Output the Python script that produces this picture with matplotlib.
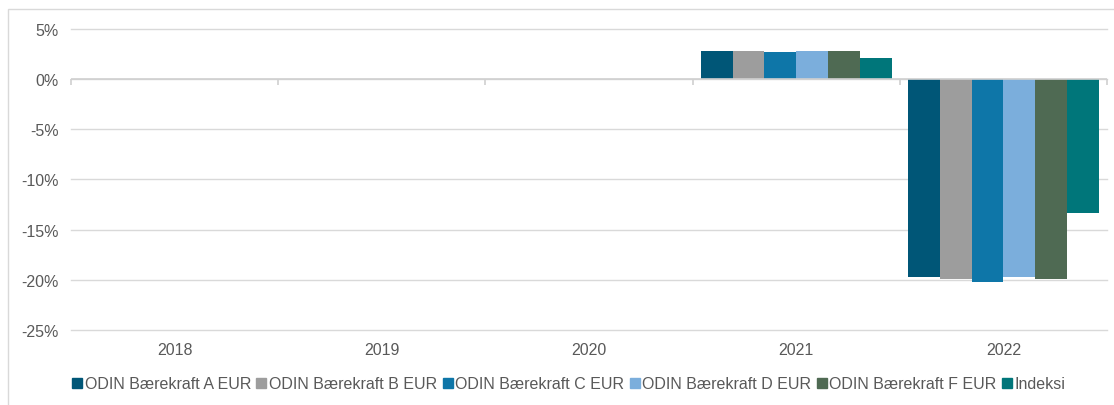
import matplotlib
matplotlib.use("Agg")
import matplotlib.pyplot as plt
import matplotlib.patches as mpatches
from matplotlib.lines import Line2D
import numpy as np

# ── data ─────────────────────────────────────────────────────────────────────
years = ["2018", "2019", "2020", "2021", "2022"]
series = ["ODIN Bærekraft A EUR", "ODIN Bærekraft B EUR", "ODIN Bærekraft C EUR",
          "ODIN Bærekraft D EUR", "ODIN Bærekraft F EUR", "Indeksi"]
odin_a = [np.nan, np.nan, np.nan, 2.8, -19.7]
odin_b = [np.nan, np.nan, np.nan, 2.8, -19.9]
odin_c = [np.nan, np.nan, np.nan, 2.7, -20.2]
odin_d = [np.nan, np.nan, np.nan, 2.8, -19.7]
odin_f = [np.nan, np.nan, np.nan, 2.8, -19.9]
indeksi = [np.nan, np.nan, np.nan, 2.1, -13.3]
values = [odin_a, odin_b, odin_c, odin_d, odin_f, indeksi]
yticks = [5, 0, -5, -10, -15, -20, -25]

# ── style ─────────────────────────────────────────────────────────────────────
colors = ["#005677", "#9D9D9D", "#0E76A8", "#7BAEDC", "#4F6A53", "#00767A"]
txt = "#595959"
fs = 11.5
plt.rcParams["font.family"] = ["Liberation Sans", "DejaVu Sans"]

fig = plt.figure(figsize=(11.14, 4.06), dpi=100)
ax = fig.add_axes([71 / 1114, 1 - 331 / 406, (1107 - 71) / 1114, 301 / 406])

x = np.arange(len(years))
group = 0.92
w = group / len(series)
for i, (name, vals, c) in enumerate(zip(series, values, colors)):
    ax.bar(x - group / 2 + w * (i + 0.5), vals, w, color=c, label=name, zorder=3)

ax.set_xlim(-0.5, len(years) - 0.5)
ax.set_ylim(-25, 5)
ax.set_yticks(yticks)
ax.set_yticklabels([f"{v}%" for v in yticks])
ax.set_xticks(x)
ax.set_xticklabels(years)
ax.tick_params(length=0, colors=txt, labelsize=fs)
ax.tick_params(axis="y", pad=9)
ax.tick_params(axis="x", pad=9)
for s in ax.spines.values():
    s.set_visible(False)
ax.yaxis.grid(True, color="#D9D9D9", linewidth=1, zorder=0, clip_on=False)
for gl in ax.get_ygridlines():
    gl.set_clip_on(False)
ax.set_axisbelow(True)

# zero line with category-boundary ticks
ax.axhline(0, color="#D0D0D0", linewidth=1.2, zorder=4)
ax.vlines(np.arange(len(years) + 1) - 0.5, -0.55, 0, color="#D0D0D0",
          linewidth=1.2, zorder=4, clip_on=False)

# legend
handles = [Line2D([], [], marker="s", linestyle="none", markersize=7.5,
                  markerfacecolor=c, markeredgecolor=c) for c in colors]
fig.legend(handles, series, loc="center", bbox_to_anchor=(569 / 1114, 1 - 385 / 406),
           ncol=len(series), frameon=False, fontsize=fs, labelcolor=txt,
           handlelength=0.55, handletextpad=0.2, columnspacing=0.38,
           borderaxespad=0)

# chart frame (left + top edges visible)
fig.patches.append(mpatches.Rectangle((8 / 1114, -0.05), 1.1, 1 - 10 / 406 + 0.05,
                                      transform=fig.transFigure, fill=False,
                                      edgecolor="#D9D9D9", linewidth=1))

fig.savefig("out.png", dpi=100)
